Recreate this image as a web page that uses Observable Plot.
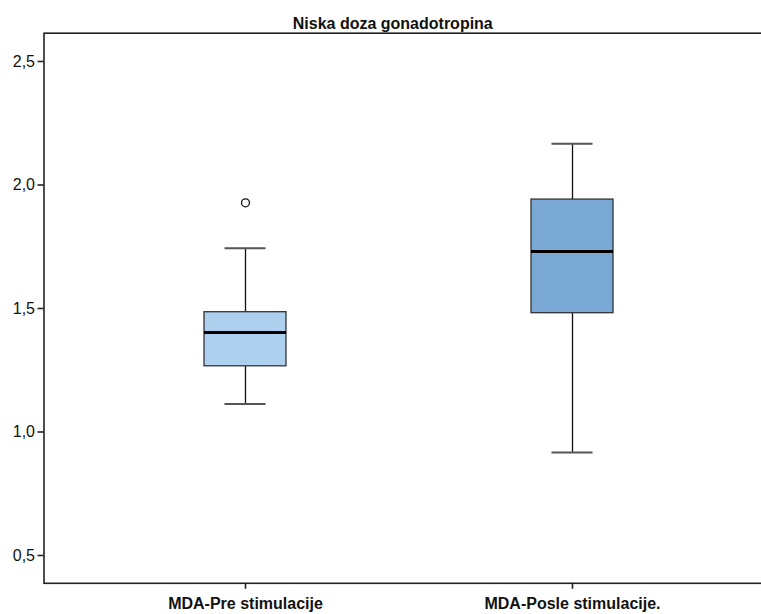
<!DOCTYPE html>
<html>
<head>
<meta charset="utf-8">
<script src="https://cdn.jsdelivr.net/npm/d3@7"></script>
<script src="https://cdn.jsdelivr.net/npm/@observablehq/plot@0.6"></script>
<style>
  html, body { margin: 0; padding: 0; background: #fff; }
  #chart svg { display: block; font-family: "Liberation Sans", Arial, sans-serif; }
</style>
</head>
<body>
<div id="chart"></div>
<script>
const title = "Niska doza gonadotropina";
const groups = ["MDA-Pre stimulacije", "MDA-Posle stimulacije."];
const whiskerLow = [1.113, 0.917];
const q1 = [1.266, 1.481];
const median = [1.403, 1.731];
const q3 = [1.485, 1.941];
const whiskerHigh = [1.744, 2.167];
const outlierGroups = ["MDA-Pre stimulacije"];
const outlierValues = [1.928];
const yTicks = [0.5, 1.0, 1.5, 2.0, 2.5];
const boxColors = ["#aed0ef", "#7aa9d6"];

const stats = groups.map((g, i) => ({
  group: g, lo: whiskerLow[i], q1: q1[i], med: median[i], q3: q3[i], hi: whiskerHigh[i]
}));
const outliers = outlierGroups.map((g, i) => ({group: g, value: outlierValues[i]}));

const chart = Plot.plot({
  width: 761,
  height: 614,
  marginTop: 32.7,
  marginBottom: 31.2,
  marginLeft: 43.5,
  marginRight: 0,
  style: {fontFamily: "'Liberation Sans', Arial, sans-serif", fontSize: "16px", color: "#000", background: "#fff"},
  x: {
    domain: groups,
    range: [43.5, 773],
    paddingInner: 0.75,
    paddingOuter: 0.488,
    align: 0.5,
    label: null
  },
  y: {
    domain: [0.3874, 2.6146],
    label: null
  },
  color: {domain: groups, range: boxColors},
  marks: [
    Plot.axisY({ticks: yTicks, tickFormat: d => d.toFixed(1).replace(".", ","), tickSize: 6, tickPadding: 3, stroke: "#222", strokeWidth: 1.6, fontSize: 16, fill: "#111"}),
    Plot.axisX({tickSize: 6, tickPadding: 8, stroke: "#222", strokeWidth: 1.6, fontWeight: "bold", fontSize: 16, fill: "#111"}),
    Plot.ruleX(stats, {x: "group", y1: "lo", y2: "q1", stroke: "#111", strokeWidth: 1.3}),
    Plot.ruleX(stats, {x: "group", y1: "q3", y2: "hi", stroke: "#111", strokeWidth: 1.3}),
    Plot.tickY(stats, {x: "group", y: "lo", inset: 20.5, stroke: "#555", strokeWidth: 2}),
    Plot.tickY(stats, {x: "group", y: "hi", inset: 20.5, stroke: "#555", strokeWidth: 2}),
    Plot.barY(stats, {x: "group", y1: "q1", y2: "q3", fill: "group", stroke: "#333", strokeWidth: 1.3}),
    Plot.tickY(stats, {x: "group", y: "med", stroke: "#000", strokeWidth: 3}),
    Plot.dot(outliers, {x: "group", y: "value", r: 4, fill: "#fff", stroke: "#111", strokeWidth: 1.3}),
    Plot.frame({stroke: "#222", strokeWidth: 1.6, insetRight: -6}),
    Plot.text([title], {frameAnchor: "top", dx: -10, dy: -16, text: d => d, fontWeight: "bold", fontSize: 16, fill: "#111"})
  ]
});
document.getElementById("chart").appendChild(chart);
</script>
</body>
</html>
